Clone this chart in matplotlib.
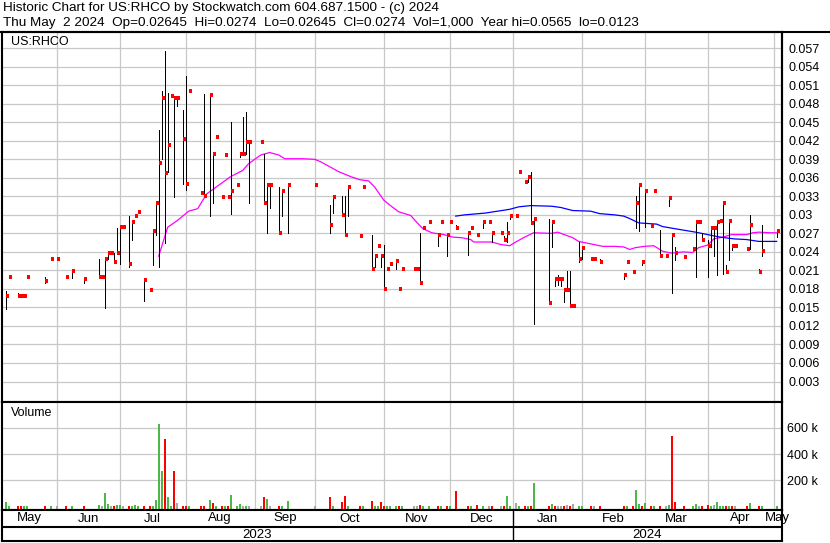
import numpy as np
import matplotlib
matplotlib.use("Agg")
import matplotlib.pyplot as plt
from matplotlib.lines import Line2D
from matplotlib.ticker import FuncFormatter

plt.rcParams['font.family'] = ['Liberation Sans', 'DejaVu Sans']
plt.rcParams['font.size'] = 9

START = '2023-05-01'

# ---- daily bars (high / low / close), volume in thousands ----
bar_dates = [
    '2023-05-09', '2023-05-10', '2023-05-15', '2023-05-16', '2023-05-17', '2023-05-18', '2023-05-26', '2023-05-30',
    '2023-06-01', '2023-06-06', '2023-06-08', '2023-06-14', '2023-06-21', '2023-06-22', '2023-06-23', '2023-06-26',
    '2023-06-27', '2023-06-28', '2023-06-29', '2023-06-30',
    '2023-07-03', '2023-07-05', '2023-07-06', '2023-07-07', '2023-07-10', '2023-07-12', '2023-07-14', '2023-07-17',
    '2023-07-18', '2023-07-19', '2023-07-20', '2023-07-21', '2023-07-24', '2023-07-25', '2023-07-26', '2023-07-27',
    '2023-07-31',
    '2023-08-01', '2023-08-02', '2023-08-08', '2023-08-09', '2023-08-11', '2023-08-14', '2023-08-15', '2023-08-17',
    '2023-08-18', '2023-08-21', '2023-08-22', '2023-08-24', '2023-08-25', '2023-08-28', '2023-08-29', '2023-08-30',
    '2023-09-05', '2023-09-06', '2023-09-07', '2023-09-08', '2023-09-13', '2023-09-14', '2023-09-18', '2023-09-29',
    '2023-10-06', '2023-10-09', '2023-10-12', '2023-10-13', '2023-10-16', '2023-10-20', '2023-10-23', '2023-10-26',
    '2023-10-27', '2023-10-30', '2023-10-31',
    '2023-11-01', '2023-11-02', '2023-11-03', '2023-11-07', '2023-11-08', '2023-11-09', '2023-11-15', '2023-11-16',
    '2023-11-17', '2023-11-20', '2023-11-22', '2023-11-27', '2023-11-28', '2023-11-30',
    '2023-12-01', '2023-12-05', '2023-12-11', '2023-12-12', '2023-12-14', '2023-12-18', '2023-12-20', '2023-12-21',
    '2023-12-26', '2023-12-27', '2023-12-28', '2023-12-29',
    '2024-01-02', '2024-01-03', '2024-01-05', '2024-01-08', '2024-01-09', '2024-01-10', '2024-01-17', '2024-01-18',
    '2024-01-19', '2024-01-22', '2024-01-23', '2024-01-24', '2024-01-25', '2024-01-26', '2024-01-29', '2024-01-31',
    '2024-02-01', '2024-02-06', '2024-02-07', '2024-02-09', '2024-02-21', '2024-02-22', '2024-02-26', '2024-02-27',
    '2024-02-28', '2024-02-29',
    '2024-03-01', '2024-03-05', '2024-03-06', '2024-03-08', '2024-03-12', '2024-03-13', '2024-03-14', '2024-03-15',
    '2024-03-20', '2024-03-25', '2024-03-26', '2024-03-27', '2024-03-28',
    '2024-04-01', '2024-04-02', '2024-04-03', '2024-04-04', '2024-04-05', '2024-04-08', '2024-04-09', '2024-04-10',
    '2024-04-11', '2024-04-12', '2024-04-18', '2024-04-19', '2024-04-24', '2024-04-25', '2024-05-02',
]

highs = [
    .0176, .0199, .0174, .0168, .0169, .0199, .0200, .0228,
    .0228, .0199, .0210, .0196, .0229, .0199, .0229, .0239, .0239, .0239, .0279, .0280,
    .0280, .0298, .0288, .0298, .0304, .0195, .0178, .0275, .0322, .0438, .0501, .0565, .0497, .0493, .0493, .0490, .0470,
    .0525, .0500, .0336, .0496, .0496, .0399, .0426, .0329, .0397, .0331, .0450, .0348, .0399, .0458, .0467, .0418,
    .0418, .0399, .0349, .0349, .0345, .0339, .0349, .0349,
    .0316, .0330, .0330, .0330, .0346, .0265, .0345, .0268, .0234, .0249, .0233,
    .0251, .0212, .0220, .0225, .0180, .0213, .0213, .0213, .0271, .0279, .0288, .0271, .0288, .0271,
    .0288, .0284, .0271, .0279, .0268, .0288, .0288, .0270, .0270, .0265, .0289, .0298,
    .0298, .0369, .0353, .0361, .0370, .0294, .0294, .0288, .0199, .0203, .0196, .0179, .0209, .0209, .0153, .0256,
    .0247, .0228, .0228, .0228, .0203, .0223, .0207, .0330, .0349, .0223,
    .0339, .0282, .0339, .0276, .0234, .0328, .0269, .0248, .0232, .0244, .0288, .0288, .0270,
    .0260, .0279, .0279, .0291, .0290, .0319, .0219, .0290, .0249, .0249, .0244, .0300, .0212, .0284, .0274,
]

lows = [
    .0148, .0199, .0169, .0168, .0169, .0199, .0189, .0228,
    .0228, .0199, .0198, .0189, .0198, .0199, .0149, .0228, .0239, .0223, .0239, .0220,
    .0280, .0216, .0259, .0298, .0304, .0161, .0178, .0218, .0268, .0216, .0390, .0255, .0370, .0493, .0329, .0477, .0350,
    .0340, .0500, .0336, .0331, .0298, .0319, .0426, .0329, .0397, .0329, .0302, .0348, .0393, .0399, .0399, .0319,
    .0418, .0319, .0270, .0311, .0270, .0298, .0270, .0349,
    .0271, .0303, .0300, .0268, .0298, .0265, .0345, .0213, .0216, .0249, .0216,
    .0180, .0212, .0220, .0213, .0180, .0213, .0213, .0213, .0189, .0279, .0288, .0249, .0288, .0233,
    .0288, .0279, .0235, .0279, .0268, .0279, .0288, .0256, .0270, .0259, .0256, .0293,
    .0298, .0369, .0353, .0353, .0286, .0123, .0157, .0248, .0184, .0186, .0184, .0159, .0178, .0153, .0153, .0223,
    .0229, .0228, .0228, .0223, .0196, .0223, .0207, .0279, .0274, .0218,
    .0280, .0282, .0339, .0234, .0234, .0314, .0173, .0227, .0232, .0244, .0199, .0288, .0259,
    .0199, .0248, .0234, .0203, .0290, .0204, .0207, .0227, .0243, .0249, .0244, .0244, .0207, .0234, .02645,
]

closes = [
    .0169, .0199, .0169, .0168, .0169, .0199, .0193, .0228,
    .0228, .0199, .0209, .0196, .0199, .0199, .0229, .0239, .0239, .0223, .0239, .0280,
    .0280, .0220, .0288, .0298, .0304, .0195, .0178, .0274, .0319, .0384, .0490, .0368, .0414, .0493, .0490, .0490, .0423,
    .0350, .0500, .0336, .0331, .0494, .0398, .0426, .0329, .0397, .0329, .0339, .0348, .0399, .0399, .0418, .0418,
    .0418, .0319, .0349, .0349, .0270, .0339, .0349, .0349,
    .0284, .0329, .0300, .0268, .0345, .0265, .0345, .0213, .0234, .0249, .0233,
    .0180, .0212, .0220, .0225, .0180, .0213, .0213, .0213, .0189, .0279, .0288, .0268, .0288, .0268,
    .0288, .0279, .0270, .0279, .0268, .0288, .0288, .0270, .0270, .0259, .0270, .0298,
    .0298, .0369, .0353, .0361, .0287, .0293, .0157, .0288, .0196, .0196, .0196, .0179, .0179, .0153, .0153, .0228,
    .0247, .0228, .0228, .0223, .0202, .0223, .0207, .0319, .0349, .0223,
    .0339, .0282, .0339, .0234, .0234, .0328, .0268, .0239, .0232, .0244, .0288, .0288, .0259,
    .0249, .0279, .0279, .0288, .0290, .0319, .0207, .0290, .0249, .0249, .0244, .0284, .0207, .0241, .0274,
]

volume_k = [
    36, 3, 4, 4, 5, 4, 5, 3,
    2, 3, 2, 5, 10, 3, 103, 18, 3, 5, 10, 8,
    3, 5, 3, 10, 3, 3, 4, 3, 49, 626, 267, 518, 74, 3, 272, 26, 3,
    3, 3, 3, 5, 49, 23, 3, 3, 3, 4, 87, 3, 18, 3, 3, 3,
    5, 72, 56, 3, 5, 3, 40, 3,
    70, 3, 35, 78, 5, 3, 3, 40, 3, 3, 33,
    5, 3, 3, 3, 3, 3, 3, 3, 10, 3, 3, 3, 3, 5,
    3, 115, 5, 3, 10, 3, 3, 5, 3, 3, 80, 5,
    26, 3, 3, 3, 3, 180, 3, 18, 3, 3, 4, 3, 10, 3, 18, 5,
    3, 3, 3, 4, 4, 3, 3, 126, 18, 3,
    26, 3, 3, 3, 4, 10, 541, 36, 4, 3, 18, 3, 5,
    10, 3, 10, 33, 5, 4, 3, 5, 3, 3, 3, 26, 5, 3, 1,
]

# ---- moving averages ----
ma_short_dates = [
    '2023-07-19', '2023-07-24', '2023-07-27', '2023-08-02', '2023-08-07', '2023-08-10', '2023-08-16', '2023-08-22',
    '2023-08-28', '2023-08-30', '2023-09-05', '2023-09-08', '2023-09-13', '2023-09-15', '2023-09-25', '2023-09-29',
    '2023-10-03', '2023-10-06', '2023-10-11', '2023-10-17', '2023-10-20', '2023-10-25', '2023-10-27', '2023-11-01',
    '2023-11-03', '2023-11-08', '2023-11-14', '2023-11-16', '2023-11-20', '2023-11-23', '2023-11-29', '2023-12-04',
    '2023-12-07', '2023-12-12', '2023-12-13', '2023-12-21', '2023-12-26', '2023-12-29', '2024-01-02', '2024-01-05',
    '2024-01-10', '2024-01-18', '2024-01-22', '2024-01-29', '2024-01-31', '2024-02-06', '2024-02-12', '2024-02-16',
    '2024-02-21', '2024-02-23', '2024-02-27', '2024-03-01', '2024-03-06', '2024-03-11', '2024-03-14', '2024-03-20',
    '2024-03-25', '2024-03-27', '2024-04-01', '2024-04-03', '2024-04-08', '2024-04-11', '2024-04-18', '2024-04-22',
    '2024-04-24', '2024-04-30', '2024-05-02',
]
ma_short = [
    .0233, .0280, .0290, .0306, .0310, .0334, .0348, .0362,
    .0372, .0383, .0397, .0401, .0397, .0391, .0391, .0390,
    .0386, .0378, .0370, .0362, .0357, .0355, .0345, .0324,
    .0316, .0305, .0299, .0288, .0278, .0271, .0268, .0264,
    .0263, .0260, .0256, .0256, .0252, .0250, .0256, .0264,
    .0271, .0270, .0272, .0263, .0257, .0253, .0249, .0249,
    .0248, .0244, .0247, .0249, .0250, .0241, .0238, .0240,
    .0239, .0247, .0251, .0261, .0264, .0268, .0268, .0271,
    .0272, .0271, .0271,
]

ma_long_dates = [
    '2023-12-05', '2023-12-08', '2023-12-19', '2023-12-25', '2023-12-29', '2024-01-03', '2024-01-09', '2024-01-18',
    '2024-01-23', '2024-01-29', '2024-02-06', '2024-02-09', '2024-02-16', '2024-02-21', '2024-02-23', '2024-02-28',
    '2024-03-07', '2024-03-11', '2024-03-19', '2024-03-26', '2024-04-01', '2024-04-05', '2024-04-12', '2024-04-18',
    '2024-04-24', '2024-05-02',
]
ma_long = [
    .0298, .0300, .0303, .0306, .0309, .0313, .0315, .0314,
    .0312, .0307, .0306, .0302, .0300, .0298, .0294, .0287,
    .0285, .0281, .0276, .0272, .0268, .0264, .0261, .0260,
    .0257, .0257,
]

month_starts = ['2023-06-01', '2023-07-01', '2023-08-01', '2023-09-01', '2023-10-01', '2023-11-01',
                '2023-12-01', '2024-01-01', '2024-02-01', '2024-03-01', '2024-04-01', '2024-05-01']
month_names = ['May', 'Jun', 'Jul', 'Aug', 'Sep', 'Oct', 'Nov', 'Dec', 'Jan', 'Feb', 'Mar', 'Apr', 'May']
years = ['2023', '2024']

header1 = "Historic Chart for US:RHCO by Stockwatch.com 604.687.1500 - (c) 2024"
header2 = ("Thu May  2 2024  Op=0.02645  Hi=0.0274  Lo=0.02645  Cl=0.0274  "
           "Vol=1,000  Year hi=0.0565  lo=0.0123")


def day_index(dates):
    return np.busday_count(START, np.array(dates, dtype='datetime64[D]'))


x = day_index(bar_dates)
highs = np.array(highs)
lows = np.array(lows)
closes = np.array(closes)
volumes = np.array(volume_k) * 1000.0

chg = np.diff(closes, prepend=closes[0] - 1)
vol_colors = np.where(chg > 0, '#4cb848', np.where(chg < 0, '#ff0000', '#a8a8a8'))

grid_days = np.busday_offset(np.array(month_starts, dtype='datetime64[D]'), 0, roll='backward')
gx = np.busday_count(START, grid_days)
year_split = np.busday_count(START, '2024-01-01')

W, H = 830, 543
L_PX, R_PX = 2, 782
XLIM = (4.77, 264.77)
GRID = '#c8c8c8'
EDGE = 1.5


def frac(x0, y0, x1, y1):
    # pixel box (top-left origin) -> figure fraction rect
    return [x0 / W, 1 - y1 / H, (x1 - x0) / W, (y1 - y0) / H]


fig = plt.figure(figsize=(W / 100, H / 100), dpi=100)

fig.text(3 / W, 1 - 8 / H, header1, va='center', ha='left', fontsize=9.7)
fig.text(3 / W, 1 - 23 / H, header2, va='center', ha='left', fontsize=9.7)

# price panel
ax = fig.add_axes(frac(L_PX, 32, R_PX, 401.5))
ax.set_xlim(*XLIM)
ax.set_ylim(-0.00024, 0.05963)
yt = np.round(np.arange(0.003, 0.0571, 0.003), 3)
ax.set_yticks(yt)
ax.set_yticklabels(['%g' % v for v in yt])
ax.yaxis.tick_right()
ax.tick_params(axis='y', length=0, pad=4.5, labelsize=9)
ax.set_xticks([])
for v in yt:
    ax.axhline(v, color=GRID, lw=0.9, zorder=0)
for g in gx:
    ax.axvline(g, color=GRID, lw=0.9, zorder=0)

ax.plot(day_index(ma_short_dates), ma_short, color='#ff00ff', lw=0.9, zorder=2)
ax.plot(day_index(ma_long_dates), ma_long, color='#0000ff', lw=0.9, zorder=2)
ax.vlines(x, lows, highs, color='black', lw=0.72, zorder=3, antialiased=False)
ax.hlines(closes, x + 0.15, x + 1.1, color='#ff0000', lw=1.5, zorder=4, antialiased=False)
ax.text(9 / (R_PX - L_PX), 1 - 10 / 369.5, 'US:RHCO', transform=ax.transAxes,
        va='center', ha='left', fontsize=9)

# volume panel
VFLOOR = -24600
axv = fig.add_axes(frac(L_PX, 401.5, R_PX, 509.5))
axv.set_xlim(*XLIM)
axv.set_ylim(VFLOOR, 802000)
axv.set_yticks([200000, 400000, 600000])
axv.yaxis.set_major_formatter(FuncFormatter(lambda v, p: '%d k' % (v / 1000)))
axv.yaxis.tick_right()
axv.tick_params(axis='y', length=0, pad=3.6, labelsize=9)
axv.set_xticks([])
for v in [200000, 400000, 600000]:
    axv.axhline(v, color=GRID, lw=0.9, zorder=0)
for g in gx:
    axv.axvline(g, color=GRID, lw=0.9, zorder=0)
axv.bar(x, volumes - VFLOOR, bottom=VFLOOR, width=0.67, color=vol_colors, zorder=3)
axv.text(9 / (R_PX - L_PX), 1 - 11 / 108, 'Volume', transform=axv.transAxes,
         va='center', ha='left', fontsize=9)

# month / year label strip
axl = fig.add_axes(frac(L_PX, 509.5, R_PX, 541))
axl.set_xlim(*XLIM)
axl.set_ylim(0, 31.5)
axl.set_xticks([])
axl.set_yticks([])
axl.axhline(14, color='black', lw=EDGE)
axl.plot([year_split, year_split], [0, 31.5], color='black', lw=1.0)
bounds = [XLIM[0]] + list(gx) + [XLIM[1]]
for i, name in enumerate(month_names):
    axl.text((bounds[i] + bounds[i + 1]) / 2, 22.5, name, ha='center', va='center', fontsize=9.5)
axl.text((XLIM[0] + year_split) / 2, 6.5, years[0], ha='center', va='center', fontsize=9.5)
axl.text((year_split + XLIM[1]) / 2, 6.5, years[1], ha='center', va='center', fontsize=9.5)

for a in (ax, axv, axl):
    for s in a.spines.values():
        s.set_linewidth(EDGE)
        s.set_color('black')

# outer frame lines
fig.add_artist(Line2D([0, 1], [1 - 32 / H, 1 - 32 / H], color='black', lw=EDGE))
fig.add_artist(Line2D([R_PX / W, R_PX / W], [1 - 32 / H, 1 - 509.5 / H], color='black', lw=EDGE))

fig.savefig('out.png', dpi=100)
